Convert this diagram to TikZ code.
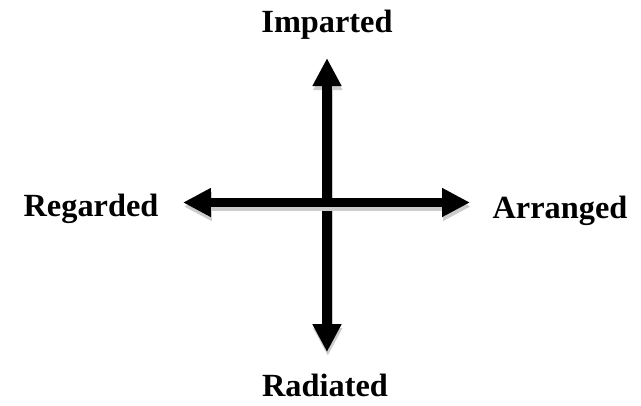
\documentclass[tikz,border=0pt]{standalone}
\usepackage{fontspec}
\setmainfont{Liberation Serif}
\usetikzlibrary{arrows.meta, positioning, calc}

\tikzset{
  axis/.style={<->, line width=0.24cm, black},
  axisshadow/.style={<->, line width=0.24cm, gray!40, transform canvas={shift={(0.02,-0.1)}}},
  lbl/.style={anchor=base, font=\fontsize{23}{28}\selectfont\bfseries, inner sep=0pt}
}

\begin{document}
\begin{tikzpicture}[>={Triangle[length=0.7cm, width=0.68cm]}]
  \useasboundingbox (-8.175,-5.0625) rectangle (7.85,5.0625);
  % tips of the two arrows
  \coordinate (up) at (0,3.61);
  \coordinate (down) at (0,-3.74);
  \coordinate (left) at (-3.6,0);
  \coordinate (right) at (3.575,0);
  % shadows first, then the arrows
  \draw[axisshadow] (down) -- (up);
  \draw[axis] (down) -- (up);
  \draw[axisshadow] (left) -- (right);
  \draw[axis] (left) -- (right);
  % labels
  \node[lbl] (imparted) at (0,4.24) {Imparted};
  \node[lbl] (radiated) at (-0.05,-4.84) {Radiated};
  \node[lbl] (regarded) at (-5.9,-0.36) {Regarded};
  \node[lbl] (arranged) at (5.825,-0.39) {Arranged};
\end{tikzpicture}
\end{document}
